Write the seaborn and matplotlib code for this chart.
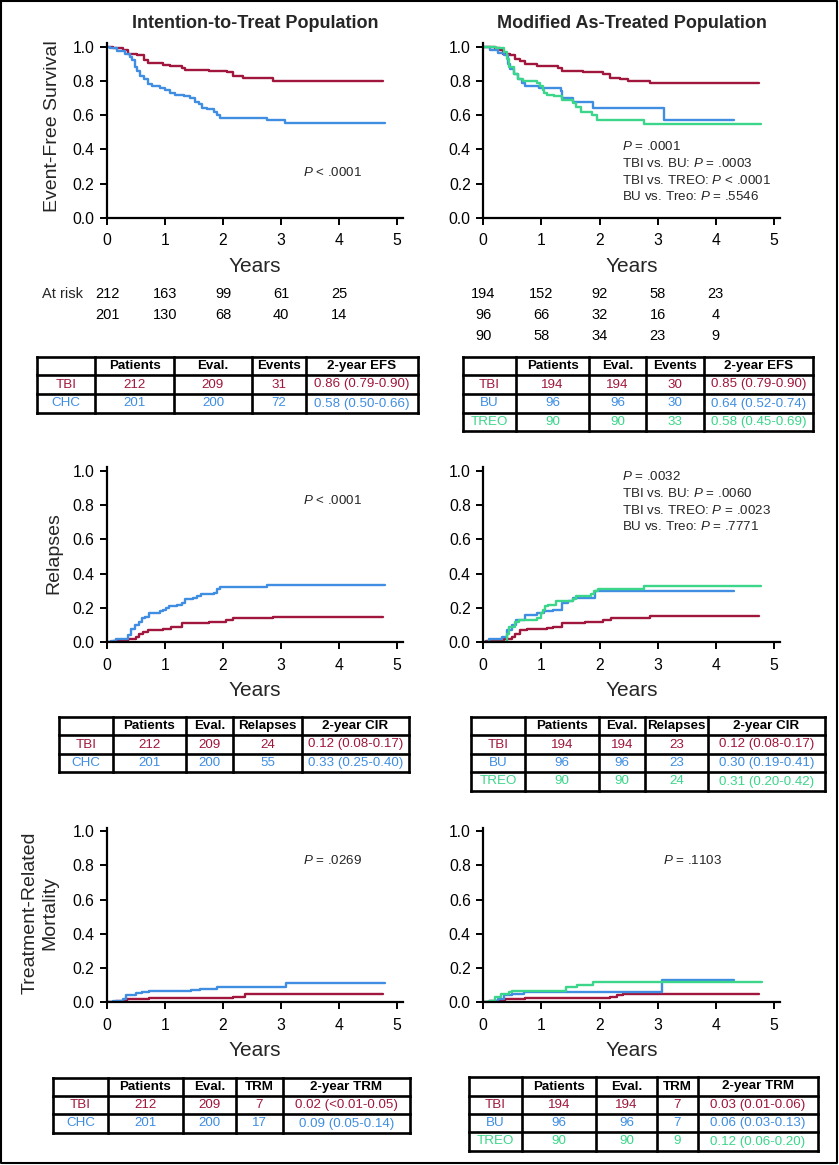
import numpy as np
import pandas as pd
import seaborn as sns
import matplotlib
matplotlib.use("Agg")
import matplotlib.pyplot as plt
from matplotlib.transforms import blended_transform_factory

# ---------------- data ----------------
# Event-free survival, intention-to-treat
efs_itt_tbi_t = [0, 0.11, 0.28, 0.37, 0.51, 0.63, 0.71, 0.97, 1.09, 1.29, 1.35, 1.75, 2.07, 2.18, 2.35, 2.87, 4.76]
efs_itt_tbi_v = [1.0, 0.99, 0.98, 0.955, 0.95, 0.925, 0.905, 0.895, 0.89, 0.875, 0.865, 0.86, 0.855, 0.83, 0.815, 0.80, 0.80]
efs_itt_chc_t = [0, 0.05, 0.17, 0.31, 0.40, 0.43, 0.48, 0.51, 0.57, 0.63, 0.71, 0.77, 0.91, 1.00, 1.09, 1.17, 1.32,
                 1.43, 1.52, 1.58, 1.63, 1.72, 1.84, 1.89, 1.95, 2.76, 3.07, 4.80]
efs_itt_chc_v = [1.0, 0.99, 0.975, 0.96, 0.94, 0.92, 0.88, 0.86, 0.83, 0.81, 0.785, 0.77, 0.76, 0.745, 0.73, 0.72, 0.71,
                 0.70, 0.68, 0.665, 0.645, 0.635, 0.62, 0.60, 0.585, 0.575, 0.555, 0.555]
# Event-free survival, modified as-treated
efs_mat_tbi_t = [0, 0.20, 0.29, 0.34, 0.46, 0.54, 0.63, 0.72, 0.92, 1.09, 1.29, 1.35, 1.72, 1.83, 2.06, 2.18, 2.35, 2.49, 2.87, 4.75]
efs_mat_tbi_v = [1.0, 0.99, 0.98, 0.96, 0.95, 0.93, 0.915, 0.90, 0.89, 0.885, 0.875, 0.86, 0.855, 0.85, 0.84, 0.82, 0.81, 0.80, 0.79, 0.79]
efs_mat_bu_t = [0, 0.11, 0.25, 0.35, 0.42, 0.46, 0.52, 0.60, 0.66, 0.72, 0.95, 1.33, 1.36, 1.55, 1.89, 3.10, 4.32]
efs_mat_bu_v = [1.0, 0.98, 0.965, 0.95, 0.90, 0.87, 0.84, 0.81, 0.79, 0.77, 0.76, 0.74, 0.70, 0.68, 0.64, 0.575, 0.575]
efs_mat_treo_t = [0, 0.22, 0.35, 0.40, 0.45, 0.52, 0.60, 0.68, 0.92, 0.98, 1.02, 1.05, 1.10, 1.22, 1.35, 1.55, 1.60, 1.68,
                  1.87, 1.95, 2.76, 4.78]
efs_mat_treo_v = [1.0, 0.99, 0.97, 0.93, 0.88, 0.84, 0.81, 0.80, 0.79, 0.77, 0.75, 0.73, 0.72, 0.71, 0.69, 0.67, 0.65, 0.62,
                  0.60, 0.575, 0.55, 0.55]
# Relapses, intention-to-treat
rel_itt_tbi_t = [0, 0.10, 0.20, 0.37, 0.50, 0.55, 0.62, 0.70, 0.97, 1.10, 1.30, 1.75, 2.05, 2.18, 2.87, 4.76]
rel_itt_tbi_v = [0, 0.005, 0.01, 0.02, 0.03, 0.05, 0.06, 0.07, 0.08, 0.09, 0.11, 0.12, 0.13, 0.14, 0.15, 0.15]
rel_itt_chc_t = [0, 0.07, 0.15, 0.37, 0.42, 0.48, 0.55, 0.60, 0.66, 0.72, 0.92, 0.97, 1.02, 1.07, 1.20, 1.30, 1.35,
                 1.48, 1.55, 1.62, 1.85, 1.90, 1.95, 2.76, 4.80]
rel_itt_chc_v = [0, 0.01, 0.02, 0.04, 0.08, 0.10, 0.12, 0.14, 0.15, 0.17, 0.18, 0.19, 0.20, 0.21, 0.22, 0.23, 0.25,
                 0.26, 0.27, 0.28, 0.29, 0.31, 0.325, 0.335, 0.335]
# Relapses, modified as-treated
rel_mat_tbi_t = [0, 0.05, 0.20, 0.35, 0.50, 0.55, 0.63, 0.75, 0.92, 1.09, 1.20, 1.35, 1.75, 2.06, 2.20, 2.87, 4.75]
rel_mat_tbi_v = [0, 0.005, 0.01, 0.02, 0.03, 0.05, 0.07, 0.075, 0.08, 0.085, 0.09, 0.11, 0.12, 0.13, 0.14, 0.155, 0.155]
rel_mat_bu_t = [0, 0.10, 0.32, 0.40, 0.50, 0.57, 0.72, 0.92, 1.05, 1.20, 1.35, 1.45, 1.55, 1.92, 4.32]
rel_mat_bu_v = [0, 0.02, 0.03, 0.07, 0.10, 0.13, 0.16, 0.17, 0.18, 0.19, 0.23, 0.24, 0.26, 0.30, 0.30]
rel_mat_treo_t = [0, 0.38, 0.40, 0.45, 0.55, 0.62, 0.92, 1.00, 1.02, 1.06, 1.12, 1.25, 1.55, 1.60, 1.85, 1.90, 1.97, 2.76, 4.78]
rel_mat_treo_v = [0, 0.0, 0.05, 0.09, 0.12, 0.13, 0.14, 0.17, 0.19, 0.21, 0.22, 0.24, 0.25, 0.27, 0.28, 0.30, 0.31, 0.33, 0.33]
# Treatment-related mortality, intention-to-treat
trm_itt_tbi_t = [0, 0.15, 0.20, 0.35, 0.72, 2.18, 2.38, 4.76]
trm_itt_tbi_v = [0, 0.005, 0.01, 0.02, 0.025, 0.033, 0.047, 0.047]
trm_itt_chc_t = [0, 0.10, 0.17, 0.27, 0.32, 0.40, 0.50, 0.60, 0.72, 1.45, 1.60, 1.90, 3.08, 4.80]
trm_itt_chc_v = [0, 0.005, 0.01, 0.02, 0.04, 0.045, 0.055, 0.06, 0.065, 0.07, 0.075, 0.09, 0.11, 0.11]
# Treatment-related mortality, modified as-treated
trm_mat_tbi_t = [0, 0.10, 0.20, 0.37, 0.72, 2.18, 2.30, 2.40, 4.75]
trm_mat_tbi_v = [0, 0.005, 0.01, 0.02, 0.025, 0.03, 0.04, 0.05, 0.05]
trm_mat_bu_t = [0, 0.12, 0.25, 0.35, 0.50, 0.70, 3.08, 4.32]
trm_mat_bu_v = [0, 0.005, 0.02, 0.04, 0.05, 0.062, 0.13, 0.13]
trm_mat_treo_t = [0, 0.10, 0.20, 0.30, 0.45, 0.50, 1.43, 1.61, 1.89, 4.79]
trm_mat_treo_v = [0, 0.01, 0.03, 0.05, 0.06, 0.068, 0.088, 0.10, 0.118, 0.118]

risk_years = [0, 1, 2, 3, 4]
risk_itt_tbi = [212, 163, 99, 61, 25]
risk_itt_chc = [201, 130, 68, 40, 14]
risk_mat_tbi = [194, 152, 92, 58, 23]
risk_mat_bu = [96, 66, 32, 16, 4]
risk_mat_treo = [90, 58, 34, 23, 9]

groups_itt = ["TBI", "CHC"]
groups_mat = ["TBI", "BU", "TREO"]

efs_header = ["", "Patients", "Eval.", "Events", "2-year EFS"]
efs_itt_rows = [["TBI", "212", "209", "31", "0.86 (0.79-0.90)"],
                ["CHC", "201", "200", "72", "0.58 (0.50-0.66)"]]
efs_mat_rows = [["TBI", "194", "194", "30", "0.85 (0.79-0.90)"],
                ["BU", "96", "96", "30", "0.64 (0.52-0.74)"],
                ["TREO", "90", "90", "33", "0.58 (0.45-0.69)"]]
rel_header = ["", "Patients", "Eval.", "Relapses", "2-year CIR"]
rel_itt_rows = [["TBI", "212", "209", "24", "0.12 (0.08-0.17)"],
                ["CHC", "201", "200", "55", "0.33 (0.25-0.40)"]]
rel_mat_rows = [["TBI", "194", "194", "23", "0.12 (0.08-0.17)"],
                ["BU", "96", "96", "23", "0.30 (0.19-0.41)"],
                ["TREO", "90", "90", "24", "0.31 (0.20-0.42)"]]
trm_header = ["", "Patients", "Eval.", "TRM", "2-year TRM"]
trm_itt_rows = [["TBI", "212", "209", "7", "0.02 (<0.01-0.05)"],
                ["CHC", "201", "200", "17", "0.09 (0.05-0.14)"]]
trm_mat_rows = [["TBI", "194", "194", "7", "0.03 (0.01-0.06)"],
                ["BU", "96", "96", "7", "0.06 (0.03-0.13)"],
                ["TREO", "90", "90", "9", "0.12 (0.06-0.20)"]]

# ---------------- style ----------------
RED, BLUE, GREEN = "#A0163C", "#3F8EE2", "#3BD68A"
PAL = {"TBI": RED, "CHC": BLUE, "BU": BLUE, "TREO": GREEN}

sns.set_theme(style="ticks")
plt.rcParams["font.family"] = ["Liberation Sans", "DejaVu Sans"]
plt.rcParams["mathtext.fontset"] = "custom"
plt.rcParams["mathtext.it"] = "Liberation Sans:italic"
plt.rcParams["mathtext.rm"] = "Liberation Sans"

W, H = 839, 1165
fig = plt.figure(figsize=(W / 100, H / 100), dpi=100)
fig.patch.set_facecolor("white")

ov = fig.add_axes([0, 0, 1, 1], zorder=5)
ov.set_xlim(0, W)
ov.set_ylim(H, 0)
ov.axis("off")
ov.patch.set_alpha(0)


def make_ax(x0, x5, y0, y1):
    xmax, ymax = 5.1, 1.02
    px_x = (x5 - x0) / 5.0
    px_y = (y0 - y1)
    ax = fig.add_axes([x0 / W, 1 - y0 / H, xmax * px_x / W, ymax * px_y / H])
    ax.set_xlim(0, xmax)
    ax.set_ylim(0, ymax)
    for s in ["top", "right"]:
        ax.spines[s].set_visible(False)
    for s in ["left", "bottom"]:
        ax.spines[s].set_linewidth(1.6)
        ax.spines[s].set_color("black")
    ax.set_xticks([0, 1, 2, 3, 4, 5])
    ax.set_xticklabels(["0", "1", "2", "3", "4", "5"])
    ax.set_yticks([0, 0.2, 0.4, 0.6, 0.8, 1.0])
    ax.set_yticklabels(["0.0", "0.2", "0.4", "0.6", "0.8", "1.0"])
    ax.tick_params(axis="both", length=5, width=1.4, labelsize=11.3, colors="black", pad=4)
    ax.tick_params(axis="x", pad=6)
    ax.set_facecolor("white")
    ax.set_xlabel("")
    ax.set_ylabel("")
    return ax


def plot_curves(ax, curves, order):
    frames = []
    for g, (t, v) in zip(order, curves):
        frames.append(pd.DataFrame({"t": t, "v": v, "g": g}))
    df = pd.concat(frames, ignore_index=True)
    sns.lineplot(data=df, x="t", y="v", hue="g", hue_order=order, palette=PAL,
                 estimator=None, drawstyle="steps-post", linewidth=1.7,
                 legend=False, ax=ax)
    ax.set_xlabel("")
    ax.set_ylabel("")


def years_label(ax, y_px):
    tr = blended_transform_factory(ax.transData, ov.transData)
    ov.text(2.55, y_px, "Years", transform=tr, ha="center", va="center", fontsize=15)


def draw_table(cols, rows, header, body):
    x0, x1 = cols[0], cols[-1]
    for y in rows:
        ov.plot([x0, x1], [y, y], color="black", lw=1.9, solid_capstyle="projecting")
    for x in cols:
        ov.plot([x, x], [rows[0], rows[-1]], color="black", lw=1.9, solid_capstyle="projecting")
    for j, txt in enumerate(header):
        cx = (cols[j] + cols[j + 1]) / 2
        cy = (rows[0] + rows[1]) / 2
        ov.text(cx, cy, txt, ha="center", va="center", fontsize=9.6, fontweight="bold", color="black")
    for i, row in enumerate(body):
        col = PAL[row[0]]
        cy = (rows[i + 1] + rows[i + 2]) / 2
        for j, txt in enumerate(row):
            cx = (cols[j] + cols[j + 1]) / 2
            ov.text(cx, cy, txt, ha="center", va="center", fontsize=9.6, color=col)


def risk_row(ax, y_px, values):
    tr = blended_transform_factory(ax.transData, ov.transData)
    for x, v in zip(risk_years, values):
        ov.text(x, y_px, str(v), transform=tr, ha="center", va="center", fontsize=10.5, color="black")


# ---------------- panels ----------------
ax1 = make_ax(107, 397, 218, 46.7)
plot_curves(ax1, [(efs_itt_tbi_t, efs_itt_tbi_v), (efs_itt_chc_t, efs_itt_chc_v)], groups_itt)
ax2 = make_ax(483.3, 774, 218, 46.7)
plot_curves(ax2, [(efs_mat_tbi_t, efs_mat_tbi_v), (efs_mat_bu_t, efs_mat_bu_v),
                  (efs_mat_treo_t, efs_mat_treo_v)], groups_mat)
ax3 = make_ax(107, 397, 642.3, 470.7)
plot_curves(ax3, [(rel_itt_tbi_t, rel_itt_tbi_v), (rel_itt_chc_t, rel_itt_chc_v)], groups_itt)
ax4 = make_ax(483.3, 774, 642.3, 470.7)
plot_curves(ax4, [(rel_mat_tbi_t, rel_mat_tbi_v), (rel_mat_bu_t, rel_mat_bu_v),
                  (rel_mat_treo_t, rel_mat_treo_v)], groups_mat)
ax5 = make_ax(107, 397, 1002.3, 831)
plot_curves(ax5, [(trm_itt_tbi_t, trm_itt_tbi_v), (trm_itt_chc_t, trm_itt_chc_v)], groups_itt)
ax6 = make_ax(483.3, 774, 1002.3, 831)
plot_curves(ax6, [(trm_mat_tbi_t, trm_mat_tbi_v), (trm_mat_bu_t, trm_mat_bu_v),
                  (trm_mat_treo_t, trm_mat_treo_v)], groups_mat)

for ax, yy in [(ax1, 266), (ax2, 266), (ax3, 691), (ax4, 691), (ax5, 1051), (ax6, 1051)]:
    years_label(ax, yy)

# titles
ov.text(255, 24, "Intention-to-Treat Population", ha="center", va="center", fontsize=13, fontweight="bold")
ov.text(632, 24, "Modified As-Treated Population", ha="center", va="center", fontsize=13, fontweight="bold")

# y labels
ov.text(53, 126, "Event-Free Survival", rotation=90, ha="center", va="center", fontsize=14)
ov.text(54, 553, "Relapses", rotation=90, ha="center", va="center", fontsize=14)
ov.text(40, 913, "Treatment-Related\nMortality", rotation=90, ha="center", va="center",
        fontsize=14, linespacing=1.25, multialignment="center")

# annotations
fs_ann = 9.6
ov.text(303, 173, "$P$ < .0001", ha="left", va="center", fontsize=fs_ann)
ann_mat_efs = ["$P$ = .0001", "TBI vs. BU: $P$ = .0003", "TBI vs. TREO: $P$ < .0001", "BU vs. Treo: $P$ = .5546"]
for k, s in enumerate(ann_mat_efs):
    ov.text(622, 147 + 16.5 * k, s, ha="left", va="center", fontsize=fs_ann)
ov.text(303, 500, "$P$ < .0001", ha="left", va="center", fontsize=fs_ann)
ann_mat_rel = ["$P$ = .0032", "TBI vs. BU: $P$ = .0060", "TBI vs. TREO: $P$ = .0023", "BU vs. Treo: $P$ = .7771"]
for k, s in enumerate(ann_mat_rel):
    ov.text(622, 477 + 16.5 * k, s, ha="left", va="center", fontsize=fs_ann)
ov.text(303, 861, "$P$ = .0269", ha="left", va="center", fontsize=fs_ann)
ov.text(663, 861, "$P$ = .1103", ha="left", va="center", fontsize=fs_ann)

# at-risk
ov.text(63, 294, "At risk", ha="center", va="center", fontsize=10.5)
risk_row(ax1, 294, risk_itt_tbi)
risk_row(ax1, 315, risk_itt_chc)
risk_row(ax2, 294, risk_mat_tbi)
risk_row(ax2, 315, risk_mat_bu)
risk_row(ax2, 336, risk_mat_treo)

# tables
draw_table([37, 95, 174, 252, 306, 418], [357, 375, 394, 413], efs_header, efs_itt_rows)
draw_table([463, 516, 589, 646, 704, 813], [357, 375, 394, 413, 431], efs_header, efs_mat_rows)
draw_table([59, 113, 186, 233, 302, 409], [717, 735, 754, 772], rel_header, rel_itt_rows)
draw_table([471, 525, 599, 645, 708, 825], [717, 735, 754, 772, 791], rel_header, rel_mat_rows)
draw_table([53, 108, 183, 236, 283, 410], [1078, 1096, 1114, 1133], trm_header, trm_itt_rows)
draw_table([469, 522, 596, 657, 698, 818], [1077, 1096, 1114, 1132, 1151], trm_header, trm_mat_rows)

# figure border
ov.plot([1, W - 2, W - 2, 1, 1], [1, 1, H - 2, H - 2, 1], color="black", lw=1.5)

fig.savefig("out.png", dpi=100, facecolor="white")
